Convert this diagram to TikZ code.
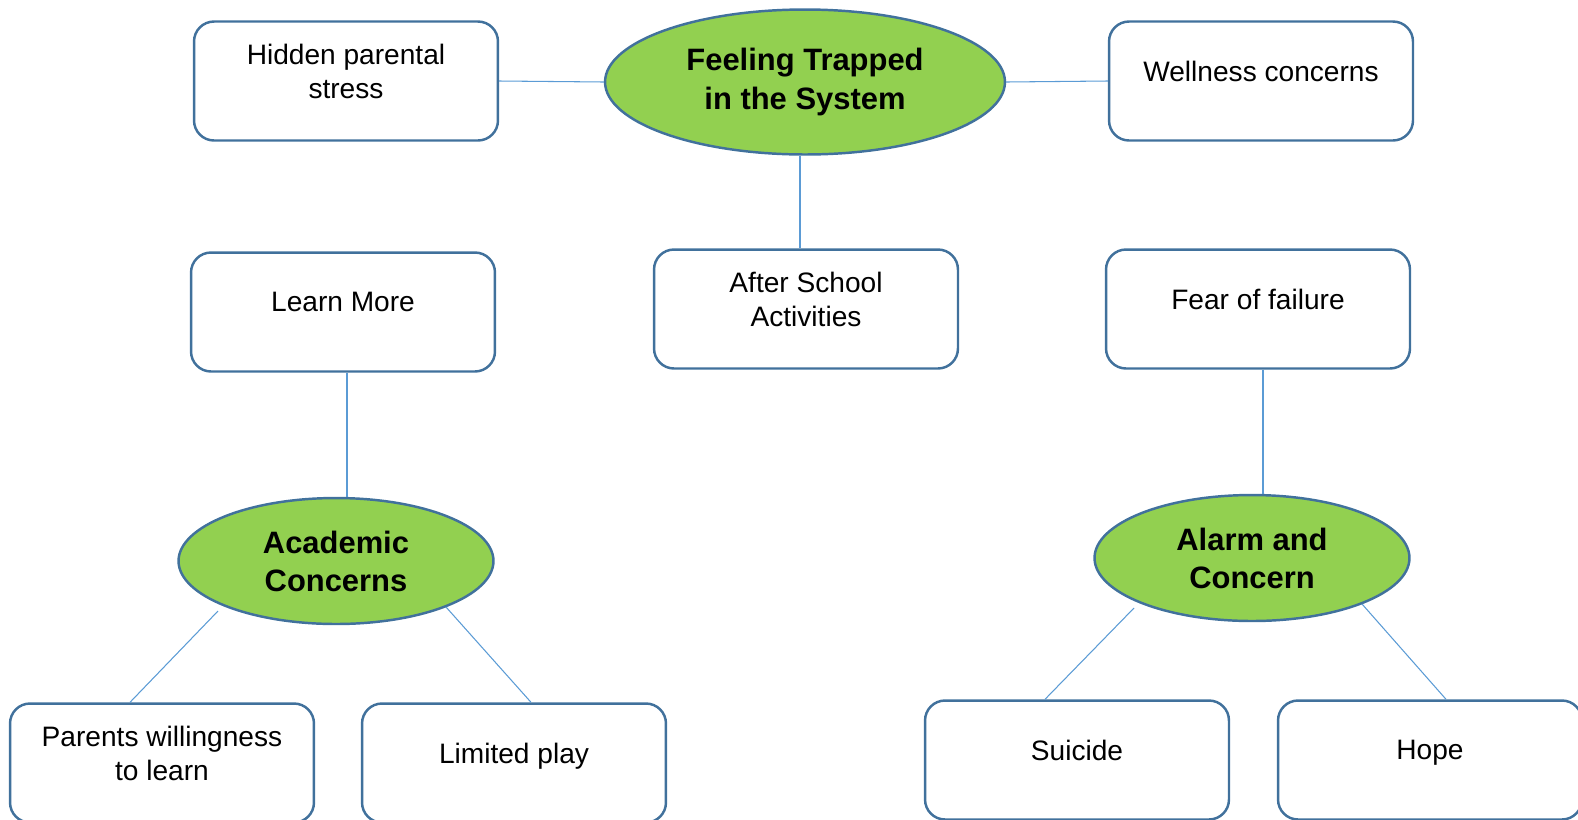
\documentclass[tikz,border=0pt]{standalone}
\usepackage{fontspec}
\setmainfont{Liberation Sans}
\usepackage{tikz}
\usetikzlibrary{calc, shapes.geometric}
\definecolor{boxblue}{HTML}{41719C}
\definecolor{linkblue}{HTML}{5B9BD5}
\definecolor{topicgreen}{HTML}{92D050}
\def\lift{0.2cm}
\tikzset{box/.style={draw=boxblue, line width=1.4pt, rounded corners=0.4cm, fill=white, minimum width=6.08cm, minimum height=2.38cm}}
\tikzset{boxtext/.style={align=center, font=\fontsize{16}{19.4}\selectfont, yshift=\lift}}
\tikzset{oneline/.style={boxtext, text depth=0pt}}
\tikzset{topic/.style={ellipse, draw=boxblue, line width=1.4pt, fill=topicgreen, inner sep=0pt, align=center, font=\fontsize{17.6}{21.7}\selectfont\bfseries}}
\tikzset{link/.style={linkblue, line width=0.6pt}}

\begin{document}
\begin{tikzpicture}[x=0.02cm, y=-0.02cm]
        \path[use as bounding box, clip] (0,0) rectangle (1578,819);
        % Topics
        \node[topic, minimum width=8cm, minimum height=2.9cm] (trapped) at (805,82) {Feeling Trapped\\in the System};
        \node[topic, minimum width=6.3cm, minimum height=2.52cm] (acad) at (336,561) {Academic\\Concerns};
        \node[topic, minimum width=6.3cm, minimum height=2.52cm] (alarm) at (1252,558) {Alarm and\\Concern};
        % Boxes
        \node[box, label={[boxtext]center:{Hidden parental\\stress}}] (hidden) at (346,81) {};
        \node[box, label={[oneline]center:{Wellness concerns}}] (wellness) at (1261,81) {};
        \node[box, label={[boxtext]center:{After School\\Activities}}] (after) at (806,309) {};
        \node[box, label={[oneline]center:{Learn More}}] (learn) at (343,312) {};
        \node[box, label={[oneline]center:{Fear of failure}}] (fear) at (1258,309) {};
        \node[box, label={[boxtext]center:{Parents willingness\\to learn}}] (parents) at (162,763) {};
        \node[box, label={[oneline]center:{Limited play}}] (limited) at (514,763) {};
        \node[box, label={[oneline]center:{Suicide}}] (suicide) at (1077,760) {};
        \node[box, label={[oneline]center:{Hope}}] (hope) at (1430,760) {};
        % Links
        \draw[link] (hidden.east) -- (trapped.west);
        \draw[link] (trapped.east) -- (wellness.west);
        \foreach \up/\down/\dx in {trapped/after/-0.1, learn/acad/0.08, fear/alarm/0.1} {
          \draw[link] ([xshift=\dx cm]\up.south) -- ([xshift=\dx cm]\up.south |- \down.north);
        }
        \draw[link] ([shift={(-118,50)}]acad.center) -- ([xshift=-0.64cm]parents.north);
        \draw[link] ([shift={(110,46)}]acad.center) -- ([xshift=0.34cm]limited.north);
        \draw[link] ([shift={(-118,50)}]alarm.center) -- ([xshift=-0.64cm]suicide.north);
        \draw[link] ([shift={(110,46)}]alarm.center) -- ([xshift=0.32cm]hope.north);
\end{tikzpicture}
\end{document}
